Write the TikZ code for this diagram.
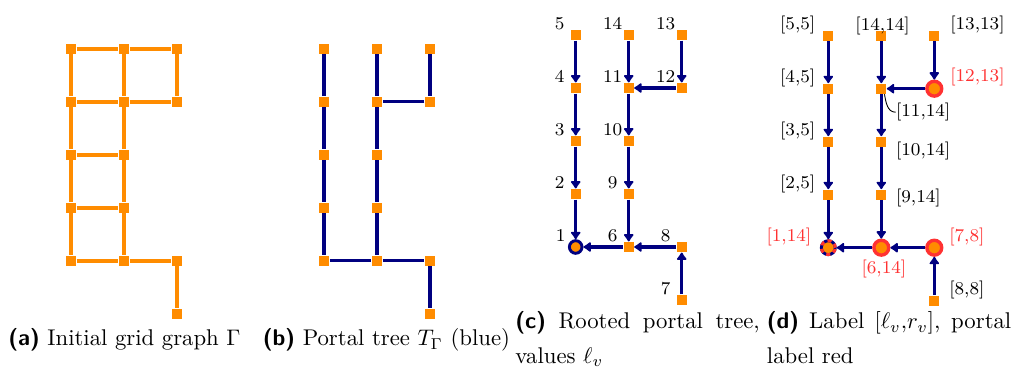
\documentclass[tikz,border=0pt]{standalone}
\usepackage{tikz}
\usepackage{amssymb}
\usepackage{xcolor}
\usetikzlibrary{arrows.meta}
\usetikzlibrary{calc}

\definecolor{portalorange}{RGB}{255,140,0}
\definecolor{treeblue}{RGB}{0,0,128}
\definecolor{portalred}{RGB}{255,50,50}

\tikzset{
    portal/.style={rectangle, fill=portalorange, minimum size=4.5pt, inner sep=0pt},
    rootportal/.style={circle, fill=portalorange, draw=treeblue, line width=1.3pt, minimum size=5.6pt, inner sep=0pt},
    redportal/.style={circle, fill=portalorange, draw=portalred, line width=1.5pt, minimum size=6.6pt, inner sep=0pt},
    gridedge/.style={portalorange, line width=1.7pt},
    treeedge/.style={treeblue, line width=1.5pt},
    treearrow/.style={treeblue, line width=1.5pt, -{Latex[length=3.8pt,width=5.4pt,round]}},
    vallabel/.style={font=\footnotesize, inner sep=0pt},
    intlabel/.style={font=\footnotesize, inner sep=0pt},
    redlabel/.style={font=\footnotesize, inner sep=0pt, text=portalred},
    subcap/.style={font=\fontsize{10.1}{15.3}\selectfont, inner sep=0pt, anchor=base west},
}
\newcommand{\subtag}[1]{\textsf{\bfseries(#1)}}
\newcommand{\gridpoints}{0/0,0/1,0/2,0/3,0/4,1/0,1/1,1/2,1/3,1/4,2/0,2/1,2/4,2/5}

\begin{document}
\begin{tikzpicture}[x=0.444pt, y=-0.444pt]
    \useasboundingbox (0,0) rectangle (1011,368);

    % (a) grid graph
    \foreach \i/\j in \gridpoints
        \node[portal] (a-\i-\j) at (71+53*\i, 48.7+53*\j) {};
    \foreach \p/\q in {0-0/1-0, 1-0/2-0, 0-1/1-1, 1-1/2-1, 0-2/1-2, 0-3/1-3, 0-4/1-4, 1-4/2-4,
                       0-0/0-1, 0-1/0-2, 0-2/0-3, 0-3/0-4, 1-0/1-1, 1-1/1-2, 1-2/1-3, 1-3/1-4,
                       2-0/2-1, 2-4/2-5}
        \draw[gridedge] (a-\p) -- (a-\q);

    % (b) portal tree
    \foreach \i/\j in \gridpoints
        \node[portal] (b-\i-\j) at (324+53*\i, 48.7+53*\j) {};
    \foreach \p/\q in {0-0/0-1, 0-1/0-2, 0-2/0-3, 0-3/0-4, 1-0/1-1, 1-1/1-2, 1-2/1-3, 1-3/1-4,
                       2-0/2-1, 2-1/1-1, 0-4/1-4, 1-4/2-4, 2-4/2-5}
        \draw[treeedge] (b-\p) -- (b-\q);

    % (c) rooted tree, values
    \foreach \i/\j/\n in {0/0/5, 0/1/4, 0/2/3, 0/3/2, 1/0/14, 1/1/11, 1/2/10, 1/3/9, 1/4/6,
                          2/0/13, 2/1/12, 2/4/8, 2/5/7} {
        \node[portal] (c-\i-\j) at (575.7+53*\i, 35+53*\j) {};
        \node[vallabel] (c-l-\n) at ($ (c-\i-\j) + (-16,-11.5) $) {\n};
    }
    \node[rootportal] (c-0-4) at (575.7, 247) {};
    \node[vallabel] (c-l-1) at ($ (c-0-4) + (-15,-11) $) {1};
    \foreach \p/\q in {0-0/0-1, 0-1/0-2, 0-2/0-3, 0-3/0-4, 1-0/1-1, 1-1/1-2, 1-2/1-3, 1-3/1-4,
                       2-0/2-1, 2-1/1-1, 2-5/2-4, 2-4/1-4, 1-4/0-4}
        \draw[treearrow] (c-\p) -- (c-\q);

    % (d) labels [l,r]
    \foreach \i/\j in {0/0, 0/1, 0/2, 0/3, 1/0, 1/1, 1/2, 1/3, 2/0, 2/5}
        \node[portal] (d-\i-\j) at (828.3+53*\i, 35.7+53*\j) {};
    \foreach \i/\j in {1/4, 2/1, 2/4}
        \node[redportal] (d-\i-\j) at (828.3+53*\i, 35.7+53*\j) {};
    \node[rootportal, minimum size=6.2pt, postaction={draw=portalred, line width=1.3pt, dash pattern=on 1.8pt off 1.6pt}] (d-0-4) at (828.3, 247.7) {};
    \foreach \p/\q in {0-0/0-1, 0-1/0-2, 0-2/0-3, 0-3/0-4, 1-0/1-1, 1-1/1-2, 1-2/1-3, 1-3/1-4,
                       2-0/2-1, 2-1/1-1, 2-5/2-4, 2-4/1-4, 1-4/0-4}
        \draw[treearrow] (d-\p) -- (d-\q);

    \node[intlabel, anchor=east] (d-l-5) at ($ (d-0-0) + (-12.6,-10.7) $) {[5,5]};
    \node[intlabel, anchor=east] (d-l-4) at ($ (d-0-1) + (-12.6,-10.7) $) {[4,5]};
    \node[intlabel, anchor=east] (d-l-3) at ($ (d-0-2) + (-12.6,-10.7) $) {[3,5]};
    \node[intlabel, anchor=east] (d-l-2) at ($ (d-0-3) + (-12.6,-10.7) $) {[2,5]};
    \node[redlabel, anchor=east] (d-l-1) at ($ (d-0-4) + (-16.6,-11) $) {[1,14]};
    \node[intlabel] (d-l-14) at ($ (d-1-0) + (1.3,-10) $) {[14,14]};
    \node[intlabel, anchor=west] (d-l-11) at ($ (d-1-1) + (14.3,23.5) $) {[11,14]};
    \node[intlabel, anchor=west] (d-l-10) at ($ (d-1-2) + (14.3,9) $) {[10,14]};
    \node[intlabel, anchor=west] (d-l-9) at ($ (d-1-3) + (14.3,3) $) {[9,14]};
    \node[redlabel] (d-l-6) at ($ (d-1-4) + (2.6,21) $) {[6,14]};
    \node[intlabel, anchor=west] (d-l-13) at ($ (d-2-0) + (15.6,-10.7) $) {[13,13]};
    \node[redlabel, anchor=west] (d-l-12) at ($ (d-2-1) + (15.6,-11.5) $) {[12,13]};
    \node[redlabel, anchor=west] (d-l-7) at ($ (d-2-4) + (14.6,-10.6) $) {[7,8]};
    \node[intlabel, anchor=west] (d-l-8) at ($ (d-2-5) + (14.6,-11) $) {[8,8]};
    \draw[black, thin] (d-1-1.-60) to[out=-80, in=180] (d-l-11.west);

    % captions
    \node[subcap] (cap-a) at (8,346) {\subtag{a} Initial grid graph $\Gamma$};
    \node[subcap] (cap-b) at (262.5,346) {\subtag{b} Portal tree $T_\Gamma$ (blue)};
    \node[subcap, text width=108.5pt, align=justify] (cap-c) at (515,329)
        {\subtag{c} Rooted portal tree, values $\ell_v$};
    \node[subcap, text width=108.5pt, align=justify] (cap-d) at (766.5,329)
        {\subtag{d} Label $[\ell_v{,}r_v]$, portal label red};
\end{tikzpicture}
\end{document}
